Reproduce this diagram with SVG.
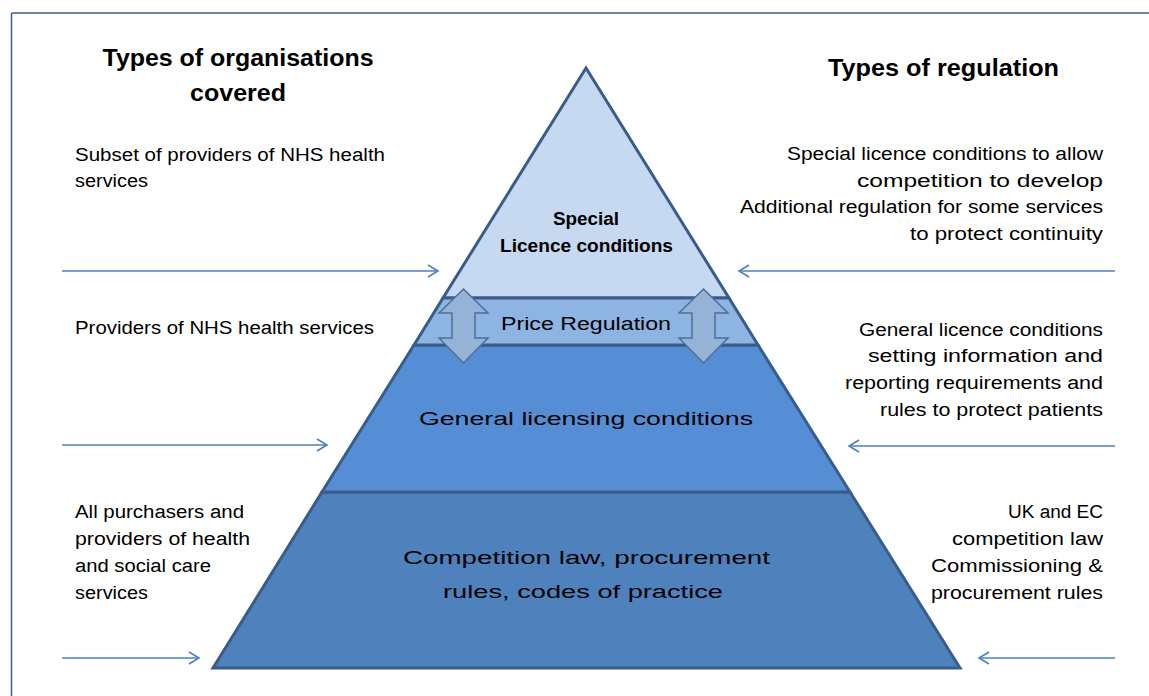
<svg xmlns="http://www.w3.org/2000/svg" width="1149" height="696" viewBox="0 0 1149 696">
<style>
.t{font-family:"Liberation Sans","Noto Sans",Arial,sans-serif;font-size:18px;fill:#000}
.h{font-family:"Liberation Sans","Noto Sans",Arial,sans-serif;font-size:23px;font-weight:bold;fill:#000}
.band{stroke:#385D8A;stroke-width:3;stroke-linejoin:miter}
.conn{stroke:#4F81BD;stroke-width:1.6;fill:none;marker-end:url(#ah)}
.blk{fill:#95B3D7;stroke:#4F6F99;stroke-width:1.5}
</style>
<defs>
<marker id="ah" markerUnits="userSpaceOnUse" markerWidth="14" markerHeight="16" refX="11" refY="7" orient="auto">
<path d="M1,1 L11,7 L1,13" fill="none" stroke="#4F81BD" stroke-width="1.6"/>
</marker>
</defs>
<rect width="1149" height="696" fill="#fff"/>
<g id="frame">
<line x1="11.5" y1="13" x2="1149" y2="13" stroke="#385D8A" stroke-width="1.5"/>
<line x1="11.5" y1="13" x2="11.5" y2="696" stroke="#385D8A" stroke-width="1.5"/>
</g>
<g id="headers">
<text class="h" x="238" y="66" text-anchor="middle" textLength="271" lengthAdjust="spacingAndGlyphs">Types of organisations</text>
<text class="h" x="238" y="101" text-anchor="middle" textLength="96" lengthAdjust="spacingAndGlyphs">covered</text>
<text class="h" x="943.5" y="76" text-anchor="middle" textLength="231" lengthAdjust="spacingAndGlyphs">Types of regulation</text>
</g>
<g id="band-competition">
<polygon class="band" points="322,492 850,492 960,668 213,668" fill="#4F81BD"/>
<text class="t" x="586.5" y="564" text-anchor="middle" font-size="26" textLength="367" lengthAdjust="spacingAndGlyphs">Competition law, procurement</text>
<text class="t" x="583" y="598" text-anchor="middle" font-size="26" textLength="280" lengthAdjust="spacingAndGlyphs">rules, codes of practice</text>
</g>
<g id="band-general">
<polygon class="band" points="414,345 758,345 850,492 322,492" fill="#558ED5"/>
<text class="t" x="586" y="425" text-anchor="middle" font-size="24" textLength="334" lengthAdjust="spacingAndGlyphs">General licensing conditions</text>
</g>
<g id="band-special">
<polygon class="band" points="586,68 729,298 443,298" fill="#C6D9F1"/>
<text class="t" x="586" y="225" text-anchor="middle" font-weight="bold" textLength="66" lengthAdjust="spacingAndGlyphs">Special</text>
<text class="t" x="586.5" y="252" text-anchor="middle" font-weight="bold" textLength="173" lengthAdjust="spacingAndGlyphs">Licence conditions</text>
</g>
<g id="band-price">
<polygon class="band" points="443,298 729,298 758,345 414,345" fill="#8EB4E3"/>
</g>
<g id="arrow-left">
<path class="blk" d="M463.5,289 L488,313 L475,313 L475,338 L488,338 L463.5,363 L439,338 L452,338 L452,313 L439,313 Z"/>
</g>
<g id="arrow-right">
<path class="blk" d="M703.5,289 L728,313 L715,313 L715,338 L728,338 L703.5,363 L679,338 L692,338 L692,313 L679,313 Z"/>
</g>
<g id="price-label">
<text class="t" x="586" y="330" text-anchor="middle" font-size="22" textLength="170" lengthAdjust="spacingAndGlyphs">Price Regulation</text>
</g>
<g id="connectors">
<line class="conn" x1="62" y1="271" x2="438" y2="271"/>
<line class="conn" x1="62" y1="445" x2="327" y2="445"/>
<line class="conn" x1="62" y1="658" x2="199" y2="658"/>
<line class="conn" x1="1115" y1="271" x2="739" y2="271"/>
<line class="conn" x1="1115" y1="446" x2="849" y2="446"/>
<line class="conn" x1="1115" y1="658" x2="979" y2="658"/>
</g>
<g id="left-texts">
<text class="t" x="75" y="161" textLength="310" lengthAdjust="spacingAndGlyphs">Subset of providers of NHS health</text>
<text class="t" x="75" y="187" textLength="73" lengthAdjust="spacingAndGlyphs">services</text>
<text class="t" x="75" y="334" textLength="299" lengthAdjust="spacingAndGlyphs">Providers of NHS health services</text>
<text class="t" x="75" y="518" textLength="169" lengthAdjust="spacingAndGlyphs">All purchasers and</text>
<text class="t" x="75" y="545" textLength="175" lengthAdjust="spacingAndGlyphs">providers of health</text>
<text class="t" x="75" y="572" textLength="136" lengthAdjust="spacingAndGlyphs">and social care</text>
<text class="t" x="75" y="599" textLength="73" lengthAdjust="spacingAndGlyphs">services</text>
</g>
<g id="right-texts" text-anchor="end">
<text class="t" x="1103" y="160" textLength="316" lengthAdjust="spacingAndGlyphs">Special licence conditions to allow</text>
<text class="t" x="1103" y="187" textLength="246" lengthAdjust="spacingAndGlyphs">competition to develop</text>
<text class="t" x="1103" y="213" textLength="363" lengthAdjust="spacingAndGlyphs">Additional regulation for some services</text>
<text class="t" x="1103" y="240" textLength="193" lengthAdjust="spacingAndGlyphs">to protect continuity</text>
<text class="t" x="1103" y="336" textLength="244" lengthAdjust="spacingAndGlyphs">General licence conditions</text>
<text class="t" x="1103" y="362" textLength="235" lengthAdjust="spacingAndGlyphs">setting information and</text>
<text class="t" x="1103" y="389" textLength="258" lengthAdjust="spacingAndGlyphs">reporting requirements and</text>
<text class="t" x="1103" y="416" textLength="223" lengthAdjust="spacingAndGlyphs">rules to protect patients</text>
<text class="t" x="1103" y="518" textLength="95" lengthAdjust="spacingAndGlyphs">UK and EC</text>
<text class="t" x="1103" y="545" textLength="151" lengthAdjust="spacingAndGlyphs">competition law</text>
<text class="t" x="1103" y="572" textLength="172" lengthAdjust="spacingAndGlyphs">Commissioning &amp;</text>
<text class="t" x="1103" y="599" textLength="172" lengthAdjust="spacingAndGlyphs">procurement rules</text>
</g>
</svg>
